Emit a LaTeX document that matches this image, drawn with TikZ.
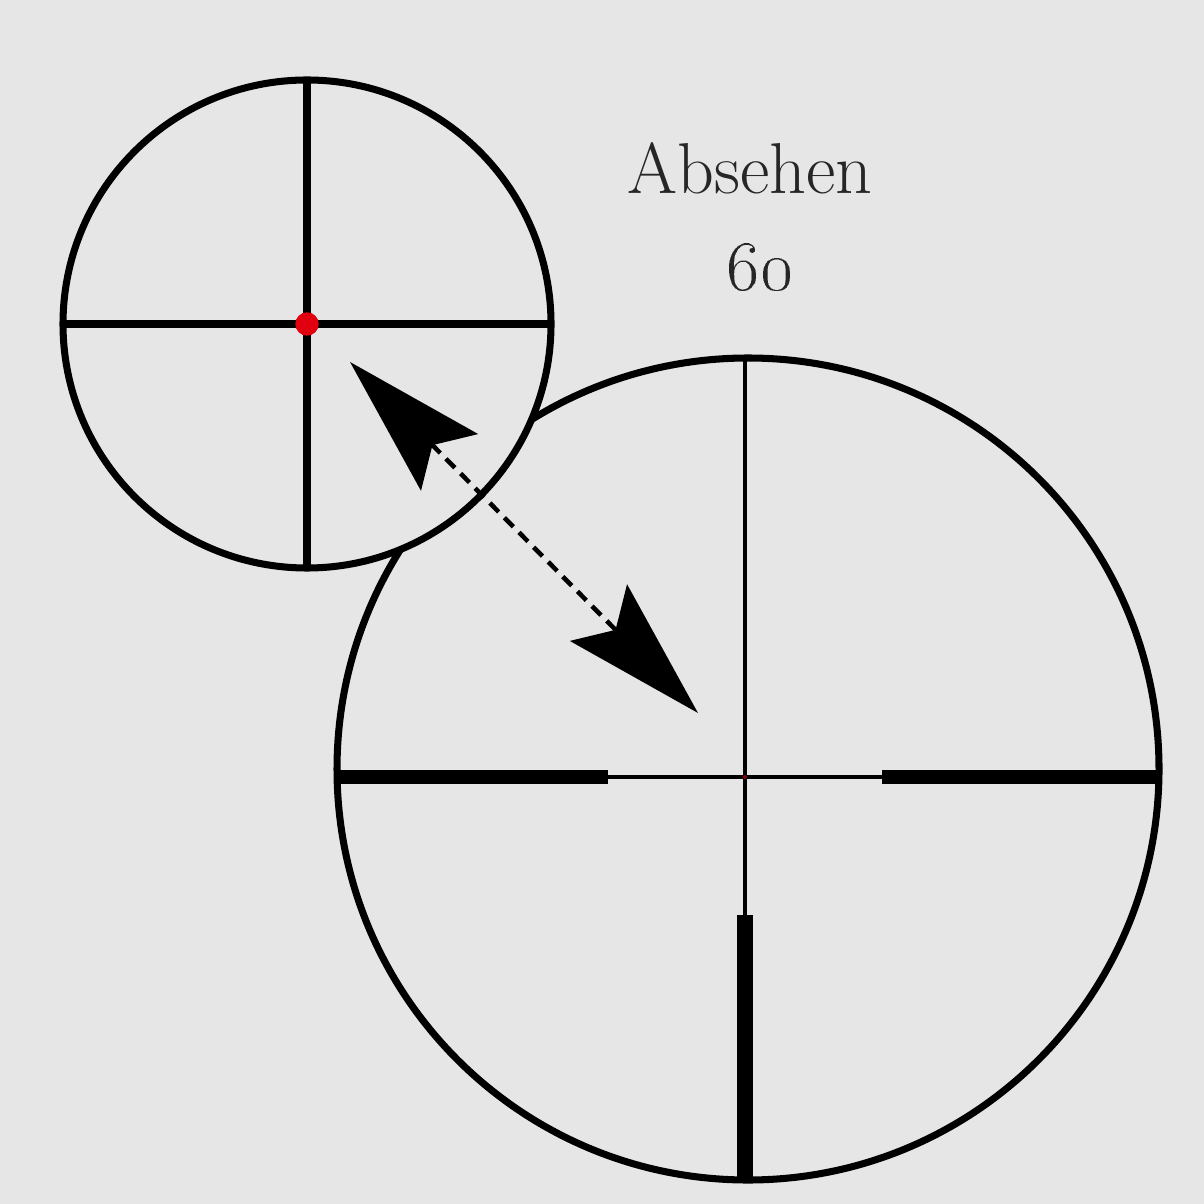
\documentclass[tikz,border=0pt]{standalone}
\usetikzlibrary{arrows.meta,positioning}
\definecolor{bggray}{HTML}{E6E6E6}
\definecolor{dotred}{HTML}{E0000F}
\definecolor{textgray}{HTML}{262626}
\tikzset{
  ring/.style={line width=2pt},
  hair/.style={line width=1pt},
  post/.style={line width=4pt},
  caption/.style={font=\fontsize{20.5}{24}\selectfont, text=textgray},
  bighead/.tip={Stealth[length=1.41cm,width=0.8cm,inset=0.24cm]}
}
\begin{document}
\begin{tikzpicture}[x=0.01cm,y=-0.01cm]

	\useasboundingbox[fill=bggray] (0,0) rectangle (1204,1204);

	% big reticle
	\coordinate (B) at (748,769);
	\draw[ring] (B) circle (411);
	\draw[hair] (338,777) -- (1159,777);
	\draw[hair] (745,358) -- (745,1180);
	\draw[post] (338,777) -- (608,777);
	\draw[post] (882,777) -- (1159,777);
	\draw[line width=4.3pt] (745,915) -- (745,1180);
	\fill[dotred!60!black] (745,777) circle (2);

	% small reticle (on top)
	\coordinate (S) at (307,324);
	\filldraw[ring, fill=bggray] (S) circle (244);
	\draw[line width=2.2pt] (63,324) -- (551,324);
	\draw[line width=2.2pt] (307,80) -- (307,568);
	\filldraw[fill=dotred, draw=dotred] (S) circle (11);

	% label
	\node[caption] (title) at (750,168) {Absehen};
	\node[caption, below=0.25cm of title, xshift=0.1cm] (num) {\oldstylenums{60}};

	% arrow
	\coordinate (T1) at (350,362);
	\coordinate (T2) at (698,713);
	\draw[line width=1.3pt, dash pattern=on 3.6pt off 2.3pt, bighead-bighead] (T1) -- (T2);

\end{tikzpicture}
\end{document}
